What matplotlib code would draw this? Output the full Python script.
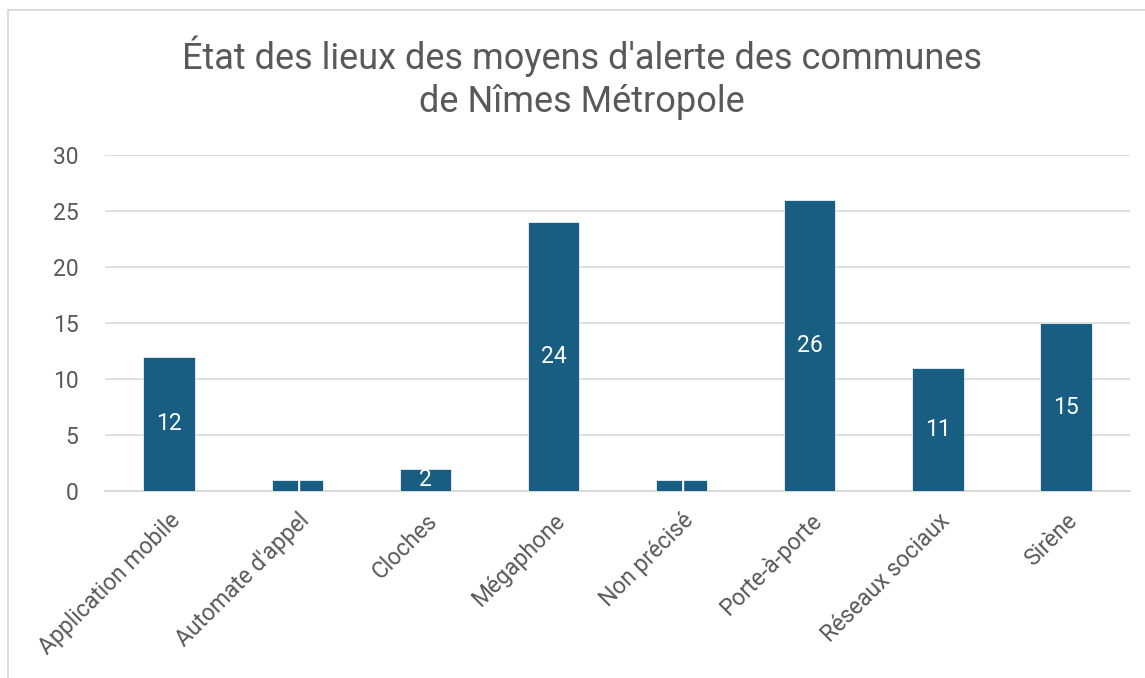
import matplotlib.pyplot as plt
from matplotlib.patches import Rectangle

categories = ["Application mobile", "Automate d'appel", "Cloches", "Mégaphone",
              "Non précisé", "Porte-à-porte", "Réseaux sociaux", "Sirène"]
counts = [12, 1, 2, 24, 1, 26, 11, 15]

bar_color = "#175e82"
text_color = "#595959"
grid_color = "#d9d9d9"

plt.rcParams['font.family'] = ['Roboto', 'DejaVu Sans']

fig = plt.figure(figsize=(11.45, 6.78), dpi=100)
ax = fig.add_axes([0.0917, 0.2758, 0.8953, 0.4956])

# chart frame
fig.patches.append(Rectangle((8 / 1145, -0.1), 1.2, 1 - 10 / 678 + 0.1,
                             transform=fig.transFigure, fill=False,
                             edgecolor=grid_color, linewidth=1.3))

x = range(len(categories))
bars = ax.bar(x, counts, width=0.4, color=bar_color, zorder=3,
              edgecolor="white", linewidth=0.5)
for b, v in zip(bars, counts):
    ax.text(b.get_x() + b.get_width() / 2, v / 2, str(v), ha="center",
            va="center", color="white", fontsize=16.5, zorder=4)

ax.set_xlim(-0.5, len(categories) - 0.5)
ax.set_ylim(0, 30)
ax.set_yticks(range(0, 31, 5))
ax.grid(axis="y", color=grid_color, linewidth=1.2, zorder=0)
ax.tick_params(length=0, labelsize=16.5, colors=text_color)
ax.tick_params(axis="y", pad=19)
ax.set_xticks(list(x))
ax.set_xticklabels(categories, rotation=45, ha="right", rotation_mode="anchor",
                   fontsize=16.5)
ax.tick_params(axis="x", pad=13)
for side in ["top", "right", "left"]:
    ax.spines[side].set_visible(False)
ax.spines["bottom"].set_color(grid_color)
ax.spines["bottom"].set_linewidth(1.5)

fig.text(0.508, 0.885, "État des lieux des moyens d'alerte des communes\nde Nîmes Métropole",
         ha="center", va="center", fontsize=26, color=text_color, linespacing=1.25)

fig.savefig("out.png", dpi=100)
